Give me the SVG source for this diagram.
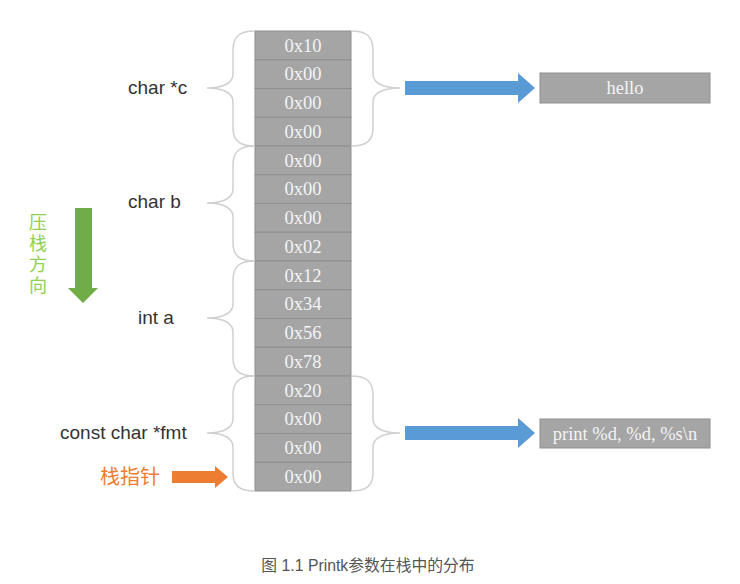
<svg xmlns="http://www.w3.org/2000/svg" width="740" height="584" viewBox="0 0 740 584">
<style>
.cell{fill:#a5a5a5;stroke:#8f8f8f;stroke-width:1}
.ct{font-family:"Liberation Serif","DejaVu Serif",serif;font-size:18.5px;fill:#f4f4f4;text-anchor:middle}
.lbl{font-family:"Liberation Sans",Arial,sans-serif;font-size:19px;fill:#333}
.brace{fill:none;stroke:#d0d0d0;stroke-width:1.5}
.blue{fill:#5b9bd5}
.box{fill:#a5a5a5;stroke:#8f8f8f;stroke-width:1}
</style>
<rect width="740" height="584" fill="#fff"/>
<g id="stack">
<rect class="cell" x="255" y="31" width="96" height="28.75"/>
<rect class="cell" x="255" y="59.75" width="96" height="28.75"/>
<rect class="cell" x="255" y="88.5" width="96" height="28.75"/>
<rect class="cell" x="255" y="117.25" width="96" height="28.75"/>
<rect class="cell" x="255" y="146" width="96" height="28.75"/>
<rect class="cell" x="255" y="174.75" width="96" height="28.75"/>
<rect class="cell" x="255" y="203.5" width="96" height="28.75"/>
<rect class="cell" x="255" y="232.25" width="96" height="28.75"/>
<rect class="cell" x="255" y="261" width="96" height="28.75"/>
<rect class="cell" x="255" y="289.75" width="96" height="28.75"/>
<rect class="cell" x="255" y="318.5" width="96" height="28.75"/>
<rect class="cell" x="255" y="347.25" width="96" height="28.75"/>
<rect class="cell" x="255" y="376" width="96" height="28.75"/>
<rect class="cell" x="255" y="404.75" width="96" height="28.75"/>
<rect class="cell" x="255" y="433.5" width="96" height="28.75"/>
<rect class="cell" x="255" y="462.25" width="96" height="28.75"/>
<text class="ct" x="303" y="51.5">0x10</text>
<text class="ct" x="303" y="80.3">0x00</text>
<text class="ct" x="303" y="109">0x00</text>
<text class="ct" x="303" y="137.8">0x00</text>
<text class="ct" x="303" y="166.5">0x00</text>
<text class="ct" x="303" y="195.3">0x00</text>
<text class="ct" x="303" y="224">0x00</text>
<text class="ct" x="303" y="252.8">0x02</text>
<text class="ct" x="303" y="281.5">0x12</text>
<text class="ct" x="303" y="310.3">0x34</text>
<text class="ct" x="303" y="339">0x56</text>
<text class="ct" x="303" y="367.8">0x78</text>
<text class="ct" x="303" y="396.5">0x20</text>
<text class="ct" x="303" y="425.3">0x00</text>
<text class="ct" x="303" y="454">0x00</text>
<text class="ct" x="303" y="482.8">0x00</text>
</g>
<g id="braces">
<path class="brace" d="M255 31 C240 31 233 36 233 50 L233 74 C233 82 225 88 207 88 C225 88 233 94 233 102 L233 128 C233 141 240 146 255 146"/>
<path class="brace" d="M255 146 C240 146 233 151 233 165 L233 189 C233 197 225 203 207 203 C225 203 233 209 233 217 L233 243 C233 256 240 261 255 261"/>
<path class="brace" d="M255 261 C240 261 233 266 233 280 L233 304 C233 312 225 318 207 318 C225 318 233 324 233 332 L233 358 C233 371 240 376 255 376"/>
<path class="brace" d="M255 376 C240 376 233 381 233 395 L233 419 C233 427 225 433 207 433 C225 433 233 439 233 447 L233 473 C233 486 240 491 255 491"/>
<path class="brace" d="M351 31 C366 31 373 36 373 50 L373 74 C373 82 381 88 400 88 C381 88 373 94 373 102 L373 128 C373 141 366 146 351 146"/>
<path class="brace" d="M351 376 C366 376 373 381 373 395 L373 419 C373 427 381 433 400 433 C381 433 373 439 373 447 L373 473 C373 486 366 491 351 491"/>
</g>
<g id="labels">
<text class="lbl" x="128" y="94">char *c</text>
<text class="lbl" x="128" y="208">char b</text>
<text class="lbl" x="138" y="324">int a</text>
<text class="lbl" x="60" y="439">const char *fmt</text>
</g>
<g id="connectors">
<path class="blue" d="M405 81 L518 81 L518 73 L535 88 L518 103 L518 95 L405 95 Z"/>
<path class="blue" d="M405 426 L518 426 L518 418 L535 433 L518 448 L518 440 L405 440 Z"/>
<path fill="#70ad47" d="M75 208 L92 208 L92 288 L98 288 L83 303 L68 288 L75 288 Z"/>
<path fill="#ed7d31" d="M172 471 L215 471 L215 466 L228 477 L215 488 L215 483 L172 483 Z"/>
</g>
<g id="hello">
<rect class="box" x="540" y="73" width="170" height="30"/>
<text class="ct" x="625" y="94">hello</text>
</g>
<g id="fmtstr">
<rect class="box" x="540" y="419" width="170" height="29"/>
<text class="ct" x="625" y="440">print %d, %d, %s\n</text>
</g>
<g id="push-dir">
<text x="38" y="213" font-family="'Noto Sans CJK SC',sans-serif" font-size="18" fill="#92d050" writing-mode="tb" letter-spacing="3">压栈方向</text>
</g>
<g id="sp">
<text x="100" y="484" font-family="'Noto Sans CJK SC',sans-serif" font-size="20" fill="#ed7d31">栈指针</text>
</g>
<text x="368" y="571" font-family="'Liberation Sans','Noto Sans CJK SC',sans-serif" font-size="15.8" fill="#555" text-anchor="middle">图 1.1 Printk参数在栈中的分布</text>
</svg>
